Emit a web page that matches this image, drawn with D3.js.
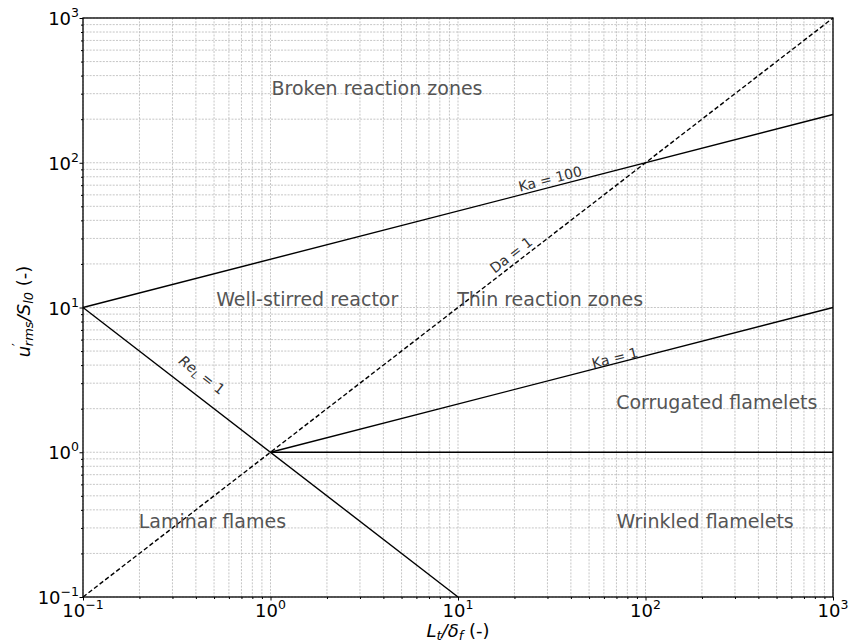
<!DOCTYPE html>
<html>
<head>
<meta charset="utf-8">
<script src="https://cdn.jsdelivr.net/npm/d3@7"></script>
<style>
  html, body { margin: 0; padding: 0; background: #fff; }
  svg { display: block; font-family: "DejaVu Sans", sans-serif; }
</style>
</head>
<body>
<svg id="chart" width="849" height="644"></svg>
<script>
// Combustion regime diagram (log-log): turbulence intensity vs. length-scale ratio
const xDomain = [0.1, 1000];
const yDomain = [0.1, 1000];
const majorTicks = [0.1, 1, 10, 100, 1000];
const tickExponents = ["−1", "0", "1", "2", "3"];

// Boundary lines, each given by its end points in data units
const reLine    = [[0.1, 10], [10, 0.1]];          // Re_L = 1
const daLine    = [[0.1, 0.1], [1000, 1000]];      // Da = 1
const ka1Line   = [[1, 1], [1000, 10]];            // Ka = 1
const ka100Line = [[0.1, 10], [1000, 215.4]];      // Ka = 100
const unityLine = [[1, 1], [1000, 1]];             // u'/S = 1

// Regime names and their centres
const regionNames = ["Broken reaction zones", "Well-stirred reactor", "Thin reaction zones",
                     "Corrugated flamelets", "Laminar flames", "Wrinkled flamelets"];
const regionX = [3.7, 1.57, 31, 240, 0.49, 208];
const regionY = [328, 11.3, 11.3, 2.2, 0.335, 0.335];

// Line annotations: text, centre position, line they follow
const lineLabels = ["Ka = 100", "Da = 1", "Ka = 1", "Re_L = 1"];
const lineLabelX = [31.0, 19.2, 68.7, 0.431];
const lineLabelY = [77.3, 23.1, 4.48, 3.42];

const svg = d3.select("#chart");
const margin = { left: 83, right: 16, top: 18, bottom: 47 };
const W = 849, H = 644;

const x = d3.scaleLog().domain(xDomain).range([margin.left, W - margin.right]);
const y = d3.scaleLog().domain(yDomain).range([H - margin.bottom, margin.top]);

const [x0, x1] = x.range();
const [y0, y1] = y.range();

// Minor tick values (2..9 per decade)
function minors(domain) {
  const out = [];
  for (let e = Math.log10(domain[0]); e < Math.log10(domain[1]); e++) {
    for (let k = 2; k <= 9; k++) out.push(k * Math.pow(10, e));
  }
  return out;
}
const xMinor = minors(xDomain);
const yMinor = minors(yDomain);

// Grid lines (major and minor)
const grid = svg.append("g").attr("stroke", "#b8b8b8").attr("stroke-width", 0.8)
  .attr("stroke-dasharray", "2,1.3");
grid.selectAll("line.vx").data(majorTicks.concat(xMinor)).join("line")
  .attr("x1", d => x(d)).attr("x2", d => x(d)).attr("y1", y1).attr("y2", y0);
grid.selectAll("line.hy").data(majorTicks.concat(yMinor)).join("line")
  .attr("class", "hy")
  .attr("y1", d => y(d)).attr("y2", d => y(d)).attr("x1", x0).attr("x2", x1);

// Regime boundaries
const line = d3.line().x(d => x(d[0])).y(d => y(d[1]));
const lines = svg.append("g").attr("fill", "none").attr("stroke", "#000").attr("stroke-width", 1.4);
[reLine, ka1Line, ka100Line, unityLine].forEach(l => lines.append("path").attr("d", line(l)));
lines.append("path").attr("d", line(daLine)).attr("stroke-dasharray", "4.5,2.5");

// Frame
svg.append("rect").attr("x", x0).attr("y", y1).attr("width", x1 - x0).attr("height", y0 - y1)
  .attr("fill", "none").attr("stroke", "#000").attr("stroke-width", 1.3);

// Axes (ticks only; labels drawn with superscripts below)
const xAxis = svg.append("g").attr("transform", `translate(0,${y0})`)
  .call(d3.axisBottom(x).tickValues(majorTicks).tickSize(3.5).tickFormat(""));
const xAxisMinor = svg.append("g").attr("transform", `translate(0,${y0})`)
  .call(d3.axisBottom(x).tickValues(xMinor).tickSize(2).tickFormat(""));
const yAxis = svg.append("g").attr("transform", `translate(${x0},0)`)
  .call(d3.axisLeft(y).tickValues(majorTicks).tickSize(3.5).tickFormat(""));
const yAxisMinor = svg.append("g").attr("transform", `translate(${x0},0)`)
  .call(d3.axisLeft(y).tickValues(yMinor).tickSize(2).tickFormat(""));
[xAxis, xAxisMinor, yAxis, yAxisMinor].forEach(g => {
  g.select(".domain").remove();
  g.selectAll(".tick line").attr("stroke", "#000").attr("stroke-width", 1);
});

// Power-of-ten tick labels
function powerLabel(sel, exp) {
  sel.append("tspan").text("10");
  sel.append("tspan").attr("dy", -8).attr("font-size", 12.5).text(exp);
}
majorTicks.forEach((v, i) => {
  const t = svg.append("text").attr("x", x(v)).attr("y", y0 + 20)
    .attr("text-anchor", "middle").attr("font-size", 18).attr("fill", "#000");
  powerLabel(t, tickExponents[i]);
  const u = svg.append("text").attr("x", x0 - 4).attr("y", y(v) + 7)
    .attr("text-anchor", "end").attr("font-size", 18).attr("fill", "#000");
  powerLabel(u, tickExponents[i]);
});

// Axis titles
const xt = svg.append("text").attr("x", (x0 + x1) / 2).attr("y", 637)
  .attr("text-anchor", "middle").attr("font-size", 18).attr("fill", "#000");
xt.append("tspan").attr("font-style", "italic").text("L");
xt.append("tspan").attr("font-style", "italic").attr("font-size", 13).attr("dy", 3).text("t");
xt.append("tspan").attr("font-style", "italic").attr("dy", -3).text("/δ");
xt.append("tspan").attr("font-style", "italic").attr("font-size", 13).attr("dy", 3).text("f");
xt.append("tspan").attr("dy", -3).text(" (-)");

const yt = svg.append("text")
  .attr("transform", `translate(30,${(y0 + y1) / 2 + 4}) rotate(-90)`)
  .attr("text-anchor", "middle").attr("font-size", 18).attr("fill", "#000");
yt.append("tspan").attr("font-style", "italic").text("u");
yt.append("tspan").attr("font-size", 12).attr("dy", -9).text("′");
yt.append("tspan").attr("font-style", "italic").attr("font-size", 13).attr("dy", 12).attr("dx", -3).text("rms");
yt.append("tspan").attr("font-style", "italic").attr("dy", -3).text("/S");
yt.append("tspan").attr("font-style", "italic").attr("font-size", 13).attr("dy", 3).text("l0");
yt.append("tspan").attr("dy", -3).text(" (-)");

// Regime names
svg.append("g").selectAll("text").data(regionNames).join("text")
  .attr("x", (d, i) => x(regionX[i])).attr("y", (d, i) => y(regionY[i]))
  .attr("dy", "0.35em").attr("text-anchor", "middle")
  .attr("font-size", 19).attr("fill", "#555").text(d => d);

// Line annotations, rotated along their line
const lineDefs = [ka100Line, daLine, ka1Line, reLine];
lineLabels.forEach((txt, i) => {
  const l = lineDefs[i];
  const ang = Math.atan2(y(l[1][1]) - y(l[0][1]), x(l[1][0]) - x(l[0][0])) * 180 / Math.PI;
  const t = svg.append("text")
    .attr("transform", `translate(${x(lineLabelX[i])},${y(lineLabelY[i])}) rotate(${ang})`)
    .attr("text-anchor", "middle").attr("dy", "0.35em")
    .attr("font-size", 14).attr("fill", "#333");
  if (txt.startsWith("Re_L")) {
    t.append("tspan").attr("font-style", "italic").text("Re");
    t.append("tspan").attr("font-style", "italic").attr("font-size", 10).attr("dy", 3).text("L");
    t.append("tspan").attr("dy", -3).text(" = 1");
  } else {
    t.text(txt);
  }
});
</script>
</body>
</html>
